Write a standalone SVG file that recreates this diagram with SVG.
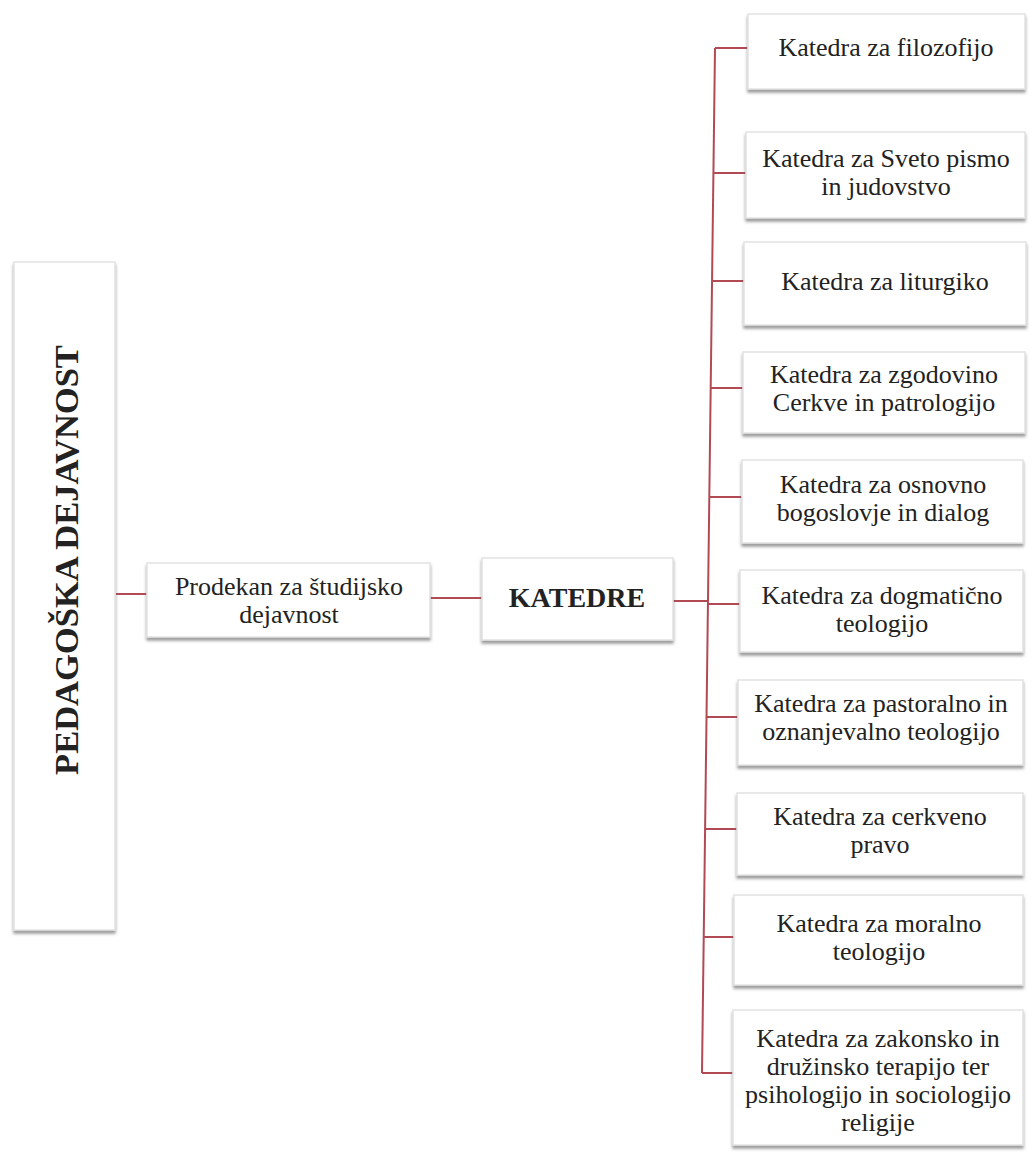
<svg xmlns="http://www.w3.org/2000/svg" width="1033" height="1155" viewBox="0 0 1033 1155">
<defs>
<filter id="sh" x="-10%" y="-10%" width="120%" height="130%">
<feDropShadow dx="0" dy="3" stdDeviation="1.5" flood-color="#666" flood-opacity="0.65"/>
</filter>
<style>
.box{fill:#fff;stroke:#e2e2e2;stroke-width:1.5;filter:url(#sh)}
.t{font-family:"Liberation Serif","Times New Roman",serif;font-size:26px;fill:#222;text-anchor:middle}
.b{font-weight:bold}
.c{stroke:#b24a55;stroke-width:2;fill:none}
</style>
</defs>
<rect width="1033" height="1155" fill="#fff"/>
<g id="connectors">
<line class="c" x1="116" y1="594" x2="147" y2="594"/>
<line class="c" x1="430" y1="598" x2="482" y2="598"/>
<line class="c" x1="673" y1="601" x2="708" y2="601"/>
<line class="c" x1="715" y1="48" x2="702" y2="1073"/>
<line class="c" x1="715" y1="48" x2="748" y2="48"/>
<line class="c" x1="713" y1="173" x2="746" y2="173"/>
<line class="c" x1="712" y1="281" x2="744" y2="281"/>
<line class="c" x1="710" y1="388" x2="743" y2="388"/>
<line class="c" x1="709" y1="497" x2="742" y2="497"/>
<line class="c" x1="708" y1="604" x2="740" y2="604"/>
<line class="c" x1="706" y1="717" x2="738" y2="717"/>
<line class="c" x1="705" y1="829" x2="737" y2="829"/>
<line class="c" x1="704" y1="937" x2="734" y2="937"/>
<line class="c" x1="702" y1="1073" x2="733" y2="1073"/>
</g>
<g id="n-pedagoska">
<rect class="box" x="14" y="262" width="101" height="668"/>
<text class="t b" transform="translate(78,560) rotate(-90)" style="font-size:34.5px">PEDAGOŠKA DEJAVNOST</text>
</g>
<g id="n-prodekan">
<rect class="box" x="147" y="563" width="283" height="74"/>
<text class="t" x="289" y="595">Prodekan za študijsko</text>
<text class="t" x="289" y="623">dejavnost</text>
</g>
<g id="n-katedre">
<rect class="box" x="482" y="558" width="191" height="82"/>
<text class="t b" x="577" y="607" style="font-size:28px">KATEDRE</text>
</g>
<g id="n-k1">
<rect class="box" x="748" y="14" width="277" height="75"/>
<text class="t" x="886" y="56">Katedra za filozofijo</text>
</g>
<g id="n-k2">
<rect class="box" x="746" y="132" width="279" height="86"/>
<text class="t" x="886" y="167">Katedra za Sveto pismo</text>
<text class="t" x="886" y="195">in judovstvo</text>
</g>
<g id="n-k3">
<rect class="box" x="744" y="242" width="282" height="83"/>
<text class="t" x="885" y="290">Katedra za liturgiko</text>
</g>
<g id="n-k4">
<rect class="box" x="743" y="352" width="282" height="81"/>
<text class="t" x="884" y="383">Katedra za zgodovino</text>
<text class="t" x="884" y="411">Cerkve in patrologijo</text>
</g>
<g id="n-k5">
<rect class="box" x="742" y="460" width="281" height="83"/>
<text class="t" x="883" y="493">Katedra za osnovno</text>
<text class="t" x="883" y="521">bogoslovje in dialog</text>
</g>
<g id="n-k6">
<rect class="box" x="740" y="570" width="283" height="82"/>
<text class="t" x="882" y="604">Katedra za dogmatično</text>
<text class="t" x="882" y="632">teologijo</text>
</g>
<g id="n-k7">
<rect class="box" x="738" y="680" width="285" height="85"/>
<text class="t" x="881" y="712">Katedra za pastoralno in</text>
<text class="t" x="881" y="740">oznanjevalno teologijo</text>
</g>
<g id="n-k8">
<rect class="box" x="737" y="793" width="286" height="82"/>
<text class="t" x="880" y="825">Katedra za cerkveno</text>
<text class="t" x="880" y="853">pravo</text>
</g>
<g id="n-k9">
<rect class="box" x="734" y="895" width="289" height="90"/>
<text class="t" x="879" y="932">Katedra za moralno</text>
<text class="t" x="879" y="960">teologijo</text>
</g>
<g id="n-k10">
<rect class="box" x="733" y="1010" width="290" height="135"/>
<text class="t" x="878" y="1047">Katedra za zakonsko in</text>
<text class="t" x="878" y="1075">družinsko terapijo ter</text>
<text class="t" x="878" y="1103">psihologijo in sociologijo</text>
<text class="t" x="878" y="1131">religije</text>
</g>
</svg>
